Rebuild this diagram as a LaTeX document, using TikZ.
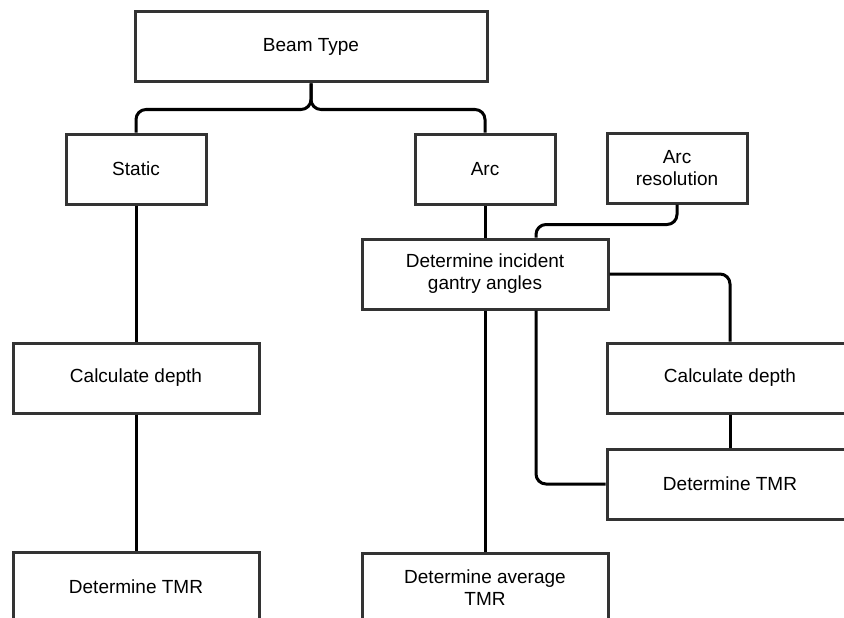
\documentclass[tikz,border=0pt]{standalone}
\usepackage{fontspec}
\setmainfont{Liberation Sans}
\definecolor{boxline}{rgb}{0.2,0.2,0.2}

\begin{document}
\begin{tikzpicture}[x=1pt,y=-1pt,
  stepbox/.style={draw=boxline,line width=3pt,fill=white,align=center,
    minimum width=246pt,minimum height=70pt,inner sep=0pt,
    font=\fontsize{19}{22}\selectfont},
  smallbox/.style={stepbox,minimum width=140pt},
  link/.style={black,line width=3pt,rounded corners=10pt}]

\clip (0,0) rectangle (844,618);

% top of the tree
\node[stepbox,minimum width=352pt] (beam) at (311,47) {Beam Type};
\node[smallbox] (static) at (136,169) {Static};
\node[smallbox] (arc) at (485,169) {Arc};
\node[smallbox] (arcres) at (677,168) {Arc\\resolution};

% static branch
\node[stepbox] (depthL) at (136,378) {Calculate depth};
\node[stepbox] (tmrL) at (136,587) {Determine TMR};

% arc branch
\node[stepbox] (incident) at (485,274) {Determine incident\\gantry angles};
\node[stepbox] (depthR) at (730,378) {Calculate depth};
\node[stepbox] (tmrR) at (730,484) {Determine TMR};
\node[stepbox] (avg) at (485,588) {Determine average\\TMR};

\begin{scope}[link]
\draw (beam.south) -- ++(0,26) -| (static.north);
\draw (beam.south) -- ++(0,26) -| (arc.north);
\draw (static.south) -- (depthL.north);
\draw (depthL.south) -- (tmrL.north);
\draw (arc.south) -- (incident.north);
\draw (arcres.south) -- ++(0,20) -| ([xshift=51pt]incident.north);
\draw (incident.east) -| (depthR.north);
\draw (depthR.south) -- (tmrR.north);
\draw ([xshift=51pt]incident.south) |- (tmrR.west);
\draw (incident.south) -- (avg.north);
\end{scope}
\end{tikzpicture}
\end{document}
